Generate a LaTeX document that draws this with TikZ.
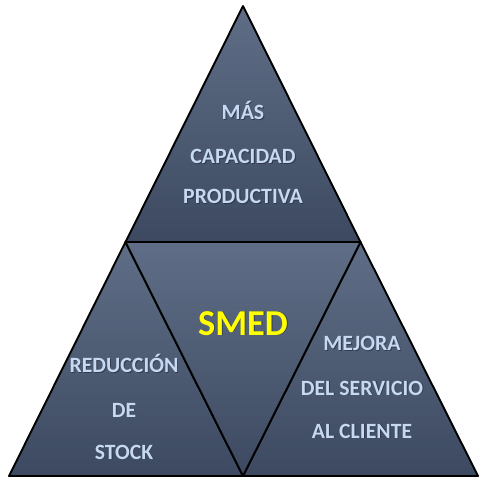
\documentclass[tikz,border=0pt]{standalone}
\usepackage{fontspec}
\setmainfont{Carlito}
\definecolor{slatetop}{HTML}{5F6E86}
\definecolor{slatebot}{HTML}{3C4961}
\definecolor{labelblue}{HTML}{C6D9F1}
\definecolor{smedyellow}{HTML}{FFFF00}
\definecolor{textshade}{HTML}{1F2735}

% label with a soft drop shadow
\newcommand{\shadedlabel}[4][label]{%
  \node[#1,text=textshade,opacity=0.6] at ([shift={(0.9,-0.9)}]#3) {#4};
  \node[#1] (#2) at (#3) {#4};}

\begin{document}
\begin{tikzpicture}[x=1pt,y=1pt,
    face/.style={top color=slatetop,bottom color=slatebot,draw=black,line width=1.9pt,line join=round},
    label/.style={anchor=base,text=labelblue,font=\fontsize{21.8}{26}\selectfont\bfseries},
    biglabel/.style={anchor=base,text=smedyellow,font=\fontsize{36.5}{42}\selectfont\bfseries}]
        \useasboundingbox (0,0) rectangle (486,480);
        % Corners
        \coordinate (apex) at (243,474);
        \coordinate (lm) at (125.5,238);
        \coordinate (rm) at (360.5,238);
        \coordinate (bl) at (9,4);
        \coordinate (bm) at (243,4);
        \coordinate (br) at (478,4);
        % Top triangle
        \path[face] (apex) -- (rm) -- (lm) -- cycle;
        % Bottom-left triangle
        \path[face] (lm) -- (bm) -- (bl) -- cycle;
        % Bottom-right triangle
        \path[face] (rm) -- (br) -- (bm) -- cycle;
        % Centre triangle (upside down)
        \path[face] (lm) -- (rm) -- (bm) -- cycle;
        % Top labels
        \shadedlabel{mas}{243,360.5}{MÁS}
        \shadedlabel{capacidad}{243,316.5}{CAPACIDAD}
        \shadedlabel{productiva}{243,276.5}{PRODUCTIVA}
        % Centre label
        \shadedlabel[biglabel]{smed}{243,145}{SMED}
        % Left labels
        \shadedlabel{reduccion}{124,107.5}{REDUCCIÓN}
        \shadedlabel{de}{124,63}{DE}
        \shadedlabel{stock}{124,21}{STOCK}
        % Right labels
        \shadedlabel{mejora}{362,129.5}{MEJORA}
        \shadedlabel{servicio}{362,85}{DEL SERVICIO}
        \shadedlabel{cliente}{362,42}{AL CLIENTE}
      \end{tikzpicture}
\end{document}
